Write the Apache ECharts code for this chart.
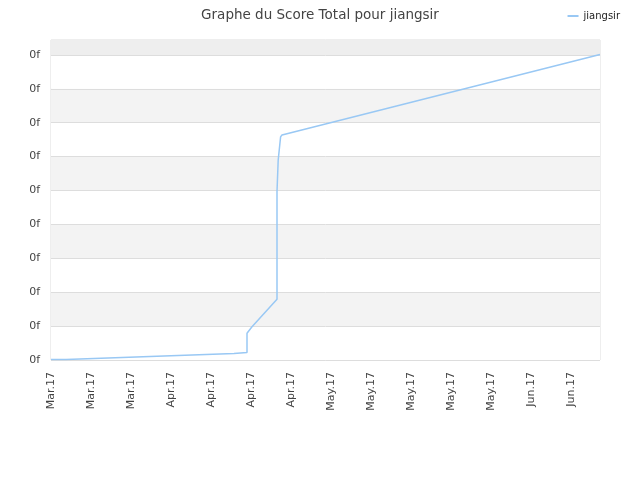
<!DOCTYPE html>
<html>
<head>
<meta charset="utf-8">
<script src="https://cdn.jsdelivr.net/npm/echarts@6/dist/echarts.min.js"></script>
<style>
  html, body { margin: 0; padding: 0; background: #fff; }
  #main { width: 640px; height: 480px; }
</style>
</head>
<body>
<div id="main"></div>
<script>
// tick labels along the x axis (one per tick step)
var xLabels = ['Mar.17', 'Mar.17', 'Mar.17', 'Apr.17', 'Apr.17', 'Apr.17', 'Apr.17',
               'May.17', 'May.17', 'May.17', 'May.17', 'May.17', 'Jun.17', 'Jun.17'];

// position along the axis (in tick steps) and total score
var xPos = [0, 0.375, 0.375, 1.075, 1.075, 1.775, 1.775, 2.475, 2.475, 3.175, 3.175,
            3.875, 3.875, 4.575, 4.575, 4.9, 4.9, 5.025, 5.65, 5.65, 5.68, 5.74, 5.775, 13.725];
var scores = [1.5, 1.5, 4.4, 4.4, 7.4, 7.4, 10.3, 10.3, 13.3, 13.3, 16.2,
              16.2, 19.2, 19.2, 22.1, 22.1, 78.8, 98, 179, 497, 590, 658, 664, 901];

var seriesName = 'jiangsir';
var xMax = 13.725;
var yMax = 944;

var points = xPos.map(function (x, i) { return [x, scores[i]]; });

var myChart = echarts.init(document.getElementById('main'));

var option = {
    animation: false,
    title: {
        text: 'Graphe du Score Total pour jiangsir',
        left: 'center',
        top: 3,
        textStyle: {
            fontFamily: 'DejaVu Sans',
            fontSize: 13.5,
            fontWeight: 'normal',
            color: '#444'
        }
    },
    legend: {
        right: 15,
        top: 6,
        icon: 'rect',
        itemWidth: 11,
        itemHeight: 2,
        itemGap: 8,
        textStyle: {
            fontFamily: 'DejaVu Sans',
            fontSize: 10,
            color: '#222'
        },
        data: [seriesName]
    },
    grid: {
        left: 51,
        right: 40,
        top: 40,
        bottom: 120,
        show: true,
        borderColor: '#ddd',
        borderWidth: 1,
        backgroundColor: 'transparent'
    },
    xAxis: {
        type: 'value',
        min: 0,
        max: xMax,
        interval: 1,
        axisLine: { show: false },
        axisTick: { show: false },
        splitLine: { show: false },
        axisLabel: {
            rotate: 90,
            margin: 12,
            fontFamily: 'DejaVu Sans',
            fontSize: 11,
            color: '#444',
            formatter: function (v) {
                return Number.isInteger(v) && xLabels[v] ? xLabels[v] : '';
            }
        }
    },
    yAxis: {
        type: 'value',
        min: 0,
        max: yMax,
        interval: 100,
        axisLine: { show: false },
        axisTick: { show: false },
        splitLine: { lineStyle: { color: '#ddd' } },
        splitArea: { show: true, areaStyle: { color: ['#ffffff', '#f3f3f3'] } },
        axisLabel: {
            margin: 11,
            showMaxLabel: false,
            fontFamily: 'DejaVu Sans',
            fontSize: 11,
            color: '#444',
            formatter: function () { return '0f'; }
        }
    },
    series: [{
        name: seriesName,
        type: 'line',
        data: points,
        showSymbol: false,
        color: '#99c8f4',
        lineStyle: { width: 1.5, color: '#99c8f4' },
        markArea: {
            silent: true,
            itemStyle: { color: '#eeeeee' },
            data: [[{ yAxis: 900 }, { yAxis: yMax }]]
        }
    }]
};

myChart.setOption(option);
</script>
</body>
</html>
